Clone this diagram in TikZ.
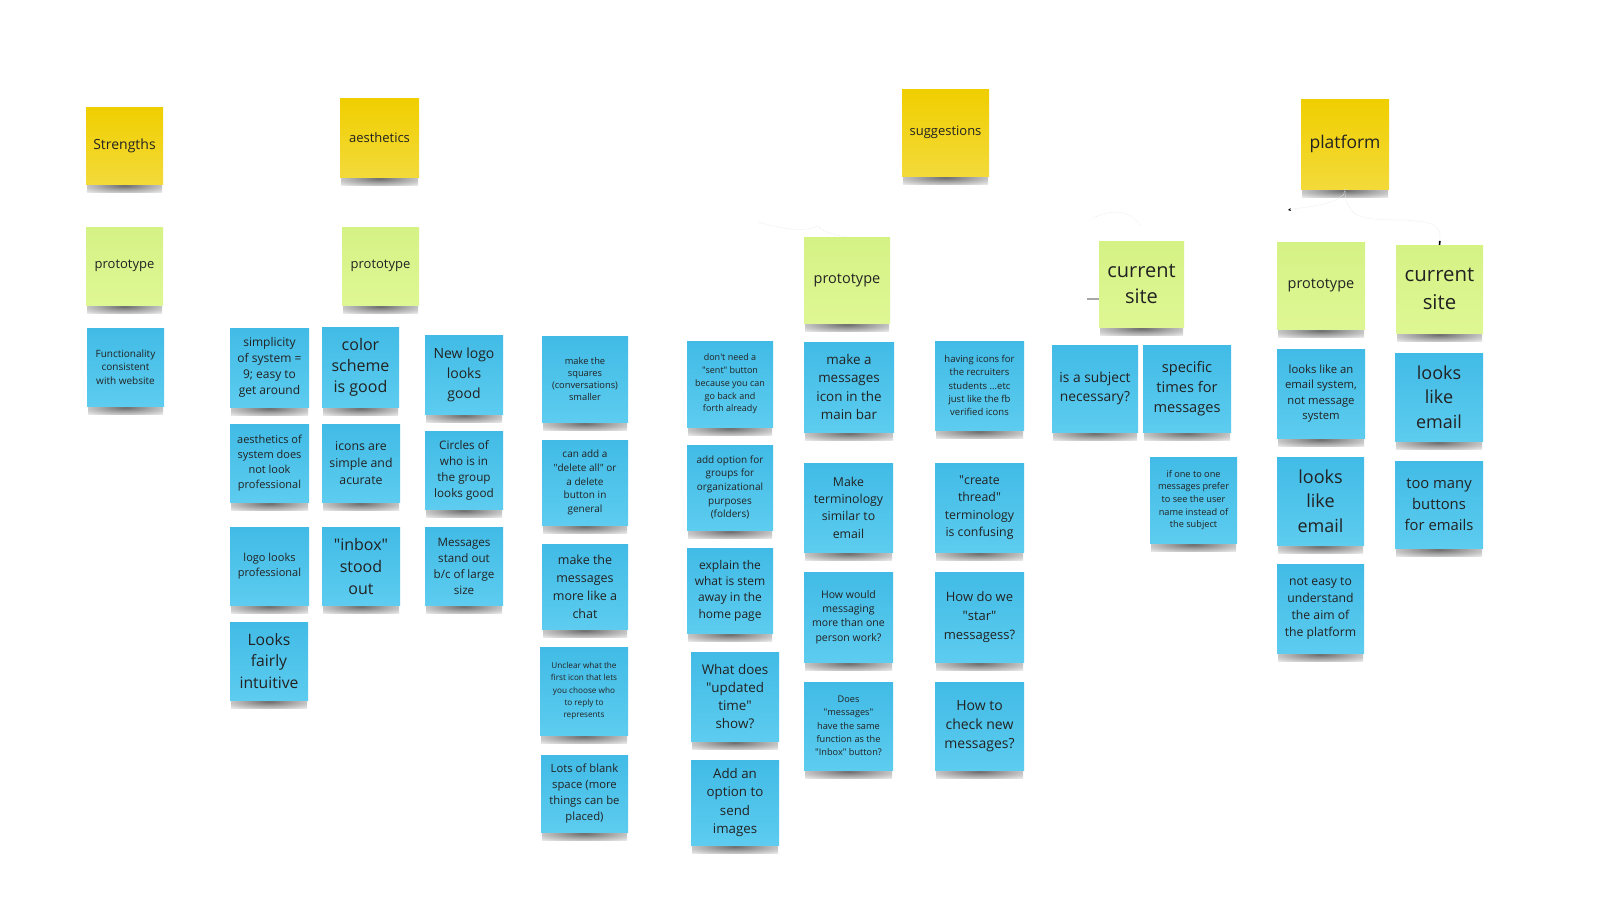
\documentclass[tikz,border=0pt]{standalone}
\usepackage{fontspec}
\setmainfont{Open Sans}
\usetikzlibrary{arrows.meta}
\pgfdeclarelayer{background}
\pgfsetlayers{background,main}
\pgfdeclareradialshading{notesh}{\pgfpoint{0bp}{0bp}}{color(0bp)=(black!58); color(18bp)=(black!32); color(36bp)=(black!8); color(50bp)=(white)}
\definecolor{ytop}{HTML}{F0CF00}
\definecolor{ybot}{HTML}{F3DA3A}
\definecolor{gtop}{HTML}{D5F285}
\definecolor{gbot}{HTML}{DEF794}
\definecolor{btop}{HTML}{41BBE6}
\definecolor{bbot}{HTML}{5DCCEF}
\definecolor{ink}{HTML}{222222}
\newcommand\qq{\textquotedbl}
\newcommand\ap{\textquotesingle}
\newcommand\sticky[9]{%
  \pgfmathsetmacro\stW{#5-#3}%
  \pgfmathsetmacro\stH{#6-#4}%
  \pgfmathsetmacro\stX{(#3+#5)/2}%
  \pgfmathsetmacro\stY{(#4+#6)/2}%
  \begin{pgfonlayer}{background}
    \shade[shading=notesh] (#3+1,#6-5) rectangle (#5-1,#6+8);
  \end{pgfonlayer}
  \node[#2, minimum width=\stW pt, minimum height=\stH pt, font={\fontsize{#7}{#8}\selectfont}] (#1) at (\stX,\stY) {#9};
}
\tikzset{
  note/.style={inner sep=1pt, align=center, text=ink, draw=none},
  ynote/.style={note, top color=ytop, bottom color=ybot},
  gnote/.style={note, top color=gtop, bottom color=gbot},
  bnote/.style={note, top color=btop, bottom color=bbot},
  faint/.style={draw=black!8, line width=0.7pt, densely dotted},
}
\begin{document}
\begin{tikzpicture}[x=1pt,y=-1pt]
\useasboundingbox (0,0) rectangle (1600,900);
\begin{pgfonlayer}{background}
\fill[white] (0,0) rectangle (1600,900);
\end{pgfonlayer}
% headers
\sticky{strengths}{ynote}{86}{107}{163}{184}{14}{17}{Strengths}
\sticky{aesthetics}{ynote}{340}{98}{419}{177}{13}{16}{aesthetics}
\sticky{suggestions}{ynote}{902}{89}{989}{176}{13}{16}{suggestions}
\sticky{platform}{ynote}{1301}{99}{1389}{189}{17.5}{21}{platform}
% green
\sticky{protoA}{gnote}{86}{227}{163}{305}{13}{16}{prototype}
\sticky{protoB}{gnote}{342}{227}{419}{305}{13}{16}{prototype}
\sticky{protoC}{gnote}{804}{237}{890}{323}{14.5}{18}{prototype}
\sticky{curA}{gnote}{1099}{241}{1184}{327}{20}{26.7}{current\\site}
\sticky{protoD}{gnote}{1277}{242}{1365}{329}{14.5}{18}{prototype}
\sticky{curB}{gnote}{1396}{245}{1483}{333}{20.4}{28}{current\\site}
% strengths
\sticky{func}{bnote}{87}{328}{164}{406}{10}{13.5}{Functionality\\consistent\\with website}
% aesthetics
\sticky{simp}{bnote}{230}{328}{309}{407}{12}{16}{simplicity\\of system =\\9; easy to\\get around}
\sticky{colsch}{bnote}{322}{327}{399}{407}{16}{21}{color\\scheme\\is good}
\sticky{newlogo}{bnote}{425}{335}{503}{414}{14}{20}{New logo\\looks\\good}
\sticky{aesth}{bnote}{230}{424}{309}{502}{11}{15}{aesthetics of\\system does\\not look\\professional}
\sticky{icons}{bnote}{322}{424}{400}{502}{12.3}{17}{icons are\\simple and\\acurate}
\sticky{circles}{bnote}{425}{431}{503}{509}{11.7}{16}{Circles of\\who is in\\the group\\looks good}
\sticky{logoprof}{bnote}{230}{527}{309}{605}{11}{15}{logo looks\\professional}
\sticky{inbox}{bnote}{322}{527}{400}{605}{16}{22}{\qq inbox\qq\\stood\\out}
\sticky{msgstand}{bnote}{425}{527}{503}{605}{11.6}{16}{Messages\\stand out\\b/c of large\\size}
\sticky{intuitive}{bnote}{230}{622}{308}{700}{15.7}{21.7}{Looks\\fairly\\intuitive}
% suggestions col 1
\sticky{squares}{bnote}{542}{336}{628}{422}{9.3}{12.3}{make the\\squares\\(conversations)\\smaller}
\sticky{delall}{bnote}{542}{440}{628}{525}{10}{13.7}{can add a\\\qq delete all\qq{} or\\a delete\\button in\\general}
\sticky{chat}{bnote}{542}{544}{628}{629}{12.5}{18}{make the\\messages\\more like a\\chat}
\sticky{unclear}{bnote}{540}{647}{628}{735}{8.2}{12.3}{Unclear what the\\first icon that lets\\you choose who\\to reply to\\represents}
\sticky{blank}{bnote}{541}{755}{628}{832}{11.3}{15.7}{Lots of blank\\space (more\\things can be\\placed)}
% suggestions col 2
\sticky{sent}{bnote}{687}{341}{773}{427}{9}{12.7}{don\ap t need a\\\qq sent\qq{} button\\because you can\\go back and\\forth already}
\sticky{groups}{bnote}{687}{445}{773}{530}{10}{13.7}{add option for\\groups for\\organizational\\purposes\\(folders)}
\sticky{explain}{bnote}{687}{548}{773}{633}{12}{16.3}{explain the\\what is stem\\away in the\\home page}
\sticky{updated}{bnote}{691}{652}{779}{741}{13.4}{18.3}{What does\\\qq updated\\time\qq\\show?}
\sticky{images}{bnote}{691}{760}{779}{845}{13.3}{18.3}{Add an\\option to\\send\\images}
% suggestions col 3
\sticky{msgicon}{bnote}{804}{342}{894}{432}{13.4}{18.3}{make a\\messages\\icon in the\\main bar}
\sticky{termin}{bnote}{804}{463}{893}{552}{12.3}{17.3}{Make\\terminology\\similar to\\email}
\sticky{howwould}{bnote}{804}{572}{893}{662}{10.5}{14.3}{How would\\messaging\\more than one\\person work?}
\sticky{does}{bnote}{804}{682}{893}{770}{9.2}{13.3}{Does\\\qq messages\qq\\have the same\\function as the\\\qq Inbox\qq{} button?}
% suggestions col 4
\sticky{having}{bnote}{935}{341}{1024}{430}{9.5}{13.3}{having icons for\\the recruiters\\students ...etc\\just like the fb\\verified icons}
\sticky{thread}{bnote}{935}{463}{1024}{552}{12.3}{17.3}{\qq create\\thread\qq\\terminology\\is confusing}
\sticky{star}{bnote}{935}{572}{1024}{662}{13}{19}{How do we\\\qq star\qq\\messagess?}
\sticky{checknew}{bnote}{935}{682}{1024}{770}{14}{19.3}{How to\\check new\\messages?}
% current site
\sticky{subject}{bnote}{1052}{345}{1138}{432}{13.8}{18.3}{is a subject\\necessary?}
\sticky{specific}{bnote}{1143}{345}{1231}{432}{14.6}{20}{specific\\times for\\messages}
\sticky{onetoone}{bnote}{1150}{457}{1237}{543}{9.2}{12.7}{if one to one\\messages prefer\\to see the user\\name instead of\\the subject}
% platform
\sticky{emailsys}{bnote}{1277}{349}{1365}{438}{11.3}{15.3}{looks like an\\email system,\\not message\\system}
\sticky{likeB}{bnote}{1395}{353}{1483}{441}{18}{24.7}{looks\\like\\email}
\sticky{likeA}{bnote}{1277}{457}{1364}{545}{18}{24.7}{looks\\like\\email}
\sticky{buttons}{bnote}{1395}{461}{1483}{548}{14.8}{20.7}{too many\\buttons\\for emails}
\sticky{noteasy}{bnote}{1277}{564}{1364}{653}{12.2}{17}{not easy to\\understand\\the aim of\\the platform}
% faint connectors
\coordinate (pL) at (1288,210);
\coordinate (sA) at (758,222);
\coordinate (cA) at (1093,218);
\coordinate (cS) at (1087,299);
\draw[faint, -{Stealth[length=3pt,width=3pt,black]}] (platform.south) .. controls (1345,204) and (1310,206) .. (pL);
\draw[faint, -{Rectangle[length=4pt,width=1.6pt,black]}] (platform.south) .. controls (1345,222) and (1370,219) .. (1400,220) .. controls (1436,221) and (1441,226) .. (curB.north);
\draw[faint] (sA) .. controls (785,230) and (805,232) .. (818,226) .. controls (822,230) and (824,233) .. (protoC.north);
\draw[faint] (cA) .. controls (1110,210) and (1130,208) .. (1140,226);
\draw[black!35, line width=1.5pt] (cS) -- (curA.west |- cS);
\end{tikzpicture}
\end{document}
